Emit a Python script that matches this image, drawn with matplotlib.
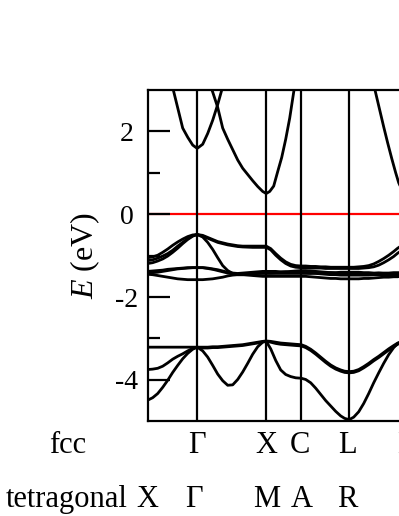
import matplotlib
matplotlib.use("Agg")
import matplotlib.pyplot as plt

plt.rcParams['font.family'] = ['Liberation Serif', 'DejaVu Serif']
plt.rcParams['mathtext.fontset'] = 'custom'
plt.rcParams['mathtext.it'] = 'Liberation Serif:italic'
plt.rcParams['mathtext.rm'] = 'Liberation Serif'
plt.rcParams['axes.unicode_minus'] = False

# ---------------- data ----------------
# k-path coordinate (arbitrary units along the path)
sym_k = [49.5, 118.5, 153.5, 201.5, 257]          # Gamma, X, C, L, next
fcc_labels = ['Γ', 'X', 'C', 'L', 'Γ']
fcc_label_k = [49.5, 119, 152.5, 199.5, 258]
tet_labels = ['X', 'Γ', 'M', 'A', 'R']
tet_label_k = [0, 46.5, 118.5, 154.5, 199.5]

y_major = [2, 0, -2, -4]
y_minor = [1, -1, -3]

# conduction bands (own k samples)
cb1_k = [20, 25, 30, 35, 40, 45, 49.5, 55, 60, 65, 70, 75, 80]
cb1_E = [3.6, 3.06, 2.57, 2.08, 1.86, 1.67, 1.59, 1.69, 1.95, 2.27, 2.65, 3.08, 3.6]

cb2_k = [60, 65, 70, 75, 80, 85, 90, 95, 100, 105, 110, 115, 118.5,
         122, 126, 130, 134, 138, 142, 146, 150]
cb2_E = [3.3, 2.95, 2.58, 2.08, 1.81, 1.56, 1.31, 1.11, 0.96, 0.81, 0.67, 0.55, 0.50,
         0.55, 0.68, 1.03, 1.37, 1.81, 2.32, 2.95, 3.55]

cb3_k = [222, 227, 231, 236, 240, 244, 248, 251, 254, 257]
cb3_E = [3.55, 3.03, 2.62, 2.11, 1.72, 1.35, 1.0, 0.76, 0.6, 0.55]

# valence bands on a shared k grid
k_grid = [0, 5, 10, 15, 20, 25, 30, 35, 40, 45, 49.5,
          55, 60, 65, 70, 75, 80, 85, 90, 95, 100, 105, 110, 115, 118.5,
          123, 128, 133, 138, 143, 148, 153.5,
          158, 163, 168, 173, 178, 183, 188, 193, 197, 201.5,
          206, 211, 216, 221, 226, 231, 236, 241, 246, 250, 252.5, 257]

v1 = [-1.05, -1.03, -0.99, -0.92, -0.84, -0.75, -0.67, -0.60, -0.54, -0.50, -0.49,
      -0.51, -0.56, -0.61, -0.66, -0.69, -0.72, -0.74, -0.76, -0.77, -0.77, -0.77, -0.77, -0.77, -0.77,
      -0.83, -0.95, -1.06, -1.15, -1.21, -1.24, -1.25,
      -1.25, -1.26, -1.26, -1.27, -1.27, -1.28, -1.28, -1.28, -1.28, -1.28,
      -1.28, -1.27, -1.26, -1.24, -1.20, -1.14, -1.07, -0.99, -0.90, -0.82, -0.78, -0.72]
v2 = [-1.12, -1.10, -1.06, -1.01, -0.95, -0.87, -0.77, -0.68, -0.59, -0.52, -0.49,
      -0.53, -0.58, -0.63, -0.68, -0.71, -0.74, -0.76, -0.78, -0.79, -0.795, -0.80, -0.80, -0.80, -0.80,
      -0.86, -0.99, -1.10, -1.19, -1.25, -1.28, -1.29,
      -1.29, -1.30, -1.30, -1.30, -1.31, -1.31, -1.31, -1.31, -1.31, -1.31,
      -1.31, -1.31, -1.30, -1.29, -1.27, -1.23, -1.17, -1.10, -1.02, -0.94, -0.90, -0.84]
v3 = [-1.19, -1.17, -1.13, -1.08, -1.01, -0.92, -0.82, -0.71, -0.61, -0.53, -0.49,
      -0.55, -0.68, -0.85, -1.05, -1.24, -1.36, -1.43, -1.46, -1.46, -1.45, -1.44, -1.43, -1.42, -1.42,
      -1.42, -1.41, -1.40, -1.39, -1.38, -1.37, -1.36,
      -1.36, -1.37, -1.38, -1.39, -1.40, -1.41, -1.42, -1.43, -1.44, -1.44,
      -1.44, -1.44, -1.44, -1.43, -1.43, -1.42, -1.42, -1.42, -1.41, -1.41, -1.41, -1.41]
v4 = [-1.38, -1.37, -1.36, -1.35, -1.33, -1.32, -1.31, -1.30, -1.29, -1.29, -1.29,
      -1.29, -1.30, -1.32, -1.34, -1.37, -1.40, -1.42, -1.43, -1.42, -1.41, -1.40, -1.39, -1.38, -1.38,
      -1.38, -1.38, -1.39, -1.39, -1.40, -1.40, -1.40,
      -1.41, -1.42, -1.43, -1.44, -1.45, -1.46, -1.46, -1.47, -1.47, -1.47,
      -1.47, -1.47, -1.47, -1.47, -1.46, -1.46, -1.46, -1.46, -1.46, -1.46, -1.46, -1.46]
v5 = [-1.45, -1.46, -1.48, -1.50, -1.52, -1.54, -1.56, -1.57, -1.58, -1.58, -1.58,
      -1.58, -1.57, -1.56, -1.54, -1.52, -1.49, -1.47, -1.46, -1.46, -1.47, -1.48, -1.49, -1.50, -1.50,
      -1.50, -1.50, -1.50, -1.50, -1.50, -1.50, -1.50,
      -1.50, -1.51, -1.52, -1.53, -1.54, -1.55, -1.55, -1.56, -1.56, -1.56,
      -1.56, -1.56, -1.55, -1.55, -1.54, -1.53, -1.52, -1.52, -1.51, -1.51, -1.50, -1.50]
v6 = [-1.42, -1.41, -1.40, -1.38, -1.36, -1.34, -1.32, -1.31, -1.30, -1.29, -1.29,
      -1.29, -1.31, -1.33, -1.36, -1.39, -1.42, -1.44, -1.45, -1.45, -1.44, -1.44, -1.43, -1.43, -1.43,
      -1.43, -1.43, -1.43, -1.43, -1.43, -1.43, -1.43,
      -1.43, -1.43, -1.42, -1.42, -1.42, -1.41, -1.41, -1.40, -1.40, -1.40,
      -1.40, -1.40, -1.41, -1.41, -1.42, -1.42, -1.43, -1.43, -1.44, -1.44, -1.44, -1.44]

w1 = [-3.21, -3.21, -3.21, -3.21, -3.21, -3.21, -3.21, -3.21, -3.21, -3.21, -3.21,
      -3.21, -3.21, -3.20, -3.20, -3.19, -3.18, -3.17, -3.16, -3.15, -3.13, -3.11, -3.09, -3.07, -3.06,
      -3.07, -3.09, -3.11, -3.12, -3.13, -3.14, -3.15,
      -3.19, -3.26, -3.35, -3.45, -3.55, -3.64, -3.71, -3.76, -3.79, -3.80,
      -3.79, -3.75, -3.68, -3.60, -3.51, -3.43, -3.34, -3.25, -3.17, -3.11, -3.09, -3.06]
w2 = [-3.75, -3.74, -3.72, -3.67, -3.59, -3.50, -3.43, -3.37, -3.30, -3.24, -3.21,
      -3.23, -3.23, -3.22, -3.22, -3.21, -3.20, -3.19, -3.18, -3.17, -3.15, -3.13, -3.11, -3.08, -3.07,
      -3.09, -3.12, -3.14, -3.15, -3.16, -3.17, -3.18,
      -3.22, -3.29, -3.38, -3.48, -3.58, -3.67, -3.74, -3.79, -3.82, -3.83,
      -3.82, -3.78, -3.71, -3.63, -3.54, -3.46, -3.37, -3.28, -3.20, -3.14, -3.11, -3.08]
w3 = [-4.49, -4.43, -4.33, -4.18, -4.01, -3.82, -3.65, -3.49, -3.36, -3.26, -3.21,
      -3.30, -3.45, -3.65, -3.86, -4.02, -4.13, -4.12, -3.99, -3.81, -3.60, -3.38, -3.20, -3.09, -3.07,
      -3.25, -3.53, -3.76, -3.87, -3.92, -3.95, -3.96,
      -3.99, -4.07, -4.20, -4.35, -4.50, -4.63, -4.76, -4.87, -4.93, -4.96,
      -4.90, -4.77, -4.57, -4.33, -4.07, -3.83, -3.60, -3.39, -3.22, -3.12, -3.09, -3.06]

fermi_E = 0.0

# ---------------- figure ----------------
W, H = 399, 516
fig = plt.figure(figsize=(W / 100, H / 100), dpi=100)
ax_left_px, ax_top_px, ax_bot_px = 147.7, 90.0, 421.3
x_span = 270.0
ax = fig.add_axes([ax_left_px / W, (H - ax_bot_px) / H, x_span / W, (ax_bot_px - ax_top_px) / H])
ax.set_xlim(0, x_span)
ax.set_ylim(-5, 3)

lw_band = 2.0
ax.axhline(fermi_E, color='#ff0000', lw=1.6, zorder=1)
for k in sym_k:
    ax.axvline(k, color='black', lw=1.6, zorder=1.5)

for kk, ee in [(cb1_k, cb1_E), (cb2_k, cb2_E), (cb3_k, cb3_E)]:
    ax.plot(kk, ee, color='black', lw=lw_band, solid_capstyle='round')
for band in [v1, v2, v3, v4, v5, v6, w1, w2, w3]:
    ax.plot(k_grid, band, color='black', lw=lw_band, solid_joinstyle='round')

for s in ['top', 'left', 'bottom', 'right']:
    ax.spines[s].set_linewidth(1.6)

ax.set_xticks([])
ax.set_yticks(y_major)
ax.set_yticklabels([str(v) for v in y_major])
ax.set_yticks(y_minor, minor=True)
ax.tick_params(axis='y', which='major', direction='in', length=16, width=1.6,
               labelsize=20, pad=15.3, left=True, right=False)
ax.tick_params(axis='y', which='minor', direction='in', length=8.5, width=1.6,
               left=True, right=False)
for lbl in ax.get_yticklabels():
    lbl.set_horizontalalignment('center')

ax.set_ylabel(r'$E$ (eV)', fontsize=23)
ax.yaxis.set_label_coords((102.5 - ax_left_px) / x_span, 0.5)

ax_h_px = ax_bot_px - ax_top_px
fcc_y = (ax_bot_px - 453.3) / ax_h_px
tet_y = (ax_bot_px - 506.7) / ax_h_px
xt = ax.get_xaxis_transform()
for k, lab in zip(fcc_label_k, fcc_labels):
    ax.text(k, fcc_y, lab, transform=xt, ha='center', va='baseline', fontsize=22, clip_on=False)
for k, lab in zip(tet_label_k, tet_labels):
    ax.text(k, tet_y, lab, transform=xt, ha='center', va='baseline', fontsize=22, clip_on=False)

fig.text(68 / W, (H - 453.3) / H, 'fcc', ha='center', va='baseline', fontsize=22)
fig.text(66.5 / W, (H - 506.7) / H, 'tetragonal', ha='center', va='baseline', fontsize=22)

fig.savefig('out.png', dpi=100)
